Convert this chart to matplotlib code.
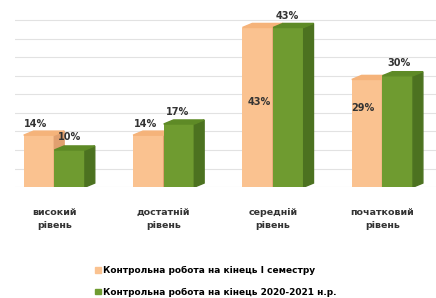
import numpy as np
import matplotlib.pyplot as plt
from matplotlib.patches import Polygon

categories = ["високий\nрівень", "достатній\nрівень", "середній\nрівень", "початковий\nрівень"]
series_names = ["Контрольна робота на кінець I семестру",
                "Контрольна робота на кінець 2020-2021 н.р."]
sem1 = [14, 14, 43, 29]
year_end = [10, 17, 43, 30]

front = ["#FAC290", "#6F9B30"]
side = ["#E0A070", "#4C7220"]
topc = ["#F5B37A", "#5E8A26"]

fig = plt.figure(figsize=(4.36, 2.98), dpi=100)
ax = fig.add_axes([0.035, 0.372, 0.965, 0.598])
x = np.arange(len(categories))
w = 0.28
dx, dy = 0.09, 1.1

ax.set_xlim(-0.357, 3.49)
ax.set_ylim(0, 48)
for g in range(0, 50, 5):
    ax.axhline(g, color="#E2E2E2", lw=0.8, zorder=0)

for k, vals in enumerate([sem1, year_end]):
    x0s = x - w + k * w
    ax.bar(x0s, vals, width=w, align="edge", color=front[k], zorder=3 + k)
    for x0, h in zip(x0s, vals):
        x1 = x0 + w
        ax.add_patch(Polygon([(x1, 0), (x1, h), (x1 + dx, h + dy), (x1 + dx, dy)],
                             closed=True, color=side[k], zorder=3 + k))
        ax.add_patch(Polygon([(x0, h), (x1, h), (x1 + dx, h + dy), (x0 + dx, h + dy)],
                             closed=True, color=topc[k], zorder=3 + k))

# value labels
lab_kw = dict(fontsize=7, fontweight="bold", color="#333333", ha="center", zorder=10)
ax.text(x[0] - w * 0.6, sem1[0] + 2.2, f"{sem1[0]}%", **lab_kw)
ax.text(x[1] - w * 0.6, sem1[1] + 2.2, f"{sem1[1]}%", **lab_kw)
ax.text(x[2] - w * 0.45, sem1[2] - 21, f"{sem1[2]}%", **lab_kw)
ax.text(x[3] - w * 0.65, sem1[3] - 8.5, f"{sem1[3]}%", **lab_kw)
ax.text(x[0] + w * 0.5, year_end[0] + 2.8, f"{year_end[0]}%", **lab_kw)
ax.text(x[1] + w * 0.45, year_end[1] + 2.5, f"{year_end[1]}%", **lab_kw)
ax.text(x[2] + w * 0.45, year_end[2] + 2.3, f"{year_end[2]}%", **lab_kw)
ax.text(x[3] + w * 0.55, year_end[3] + 2.6, f"{year_end[3]}%", **lab_kw)

ax.set_xticks(x)
ax.set_xticklabels(categories, fontsize=6.8, fontweight="bold", color="#333333",
                   linespacing=1.6)
ax.tick_params(axis="x", length=0, pad=15)
ax.set_yticks([])
for s in ax.spines.values():
    s.set_visible(False)

handles = [plt.Rectangle((0, 0), 1, 1, color=c) for c in front]
fig.legend(handles, series_names, loc="upper left", bbox_to_anchor=(0.2, 0.135),
           frameon=False, handlelength=0.6, handleheight=0.6,
           handletextpad=0.3, labelspacing=1.4, prop={"weight": "bold", "size": 6.5})

fig.savefig("out.png", dpi=100)
